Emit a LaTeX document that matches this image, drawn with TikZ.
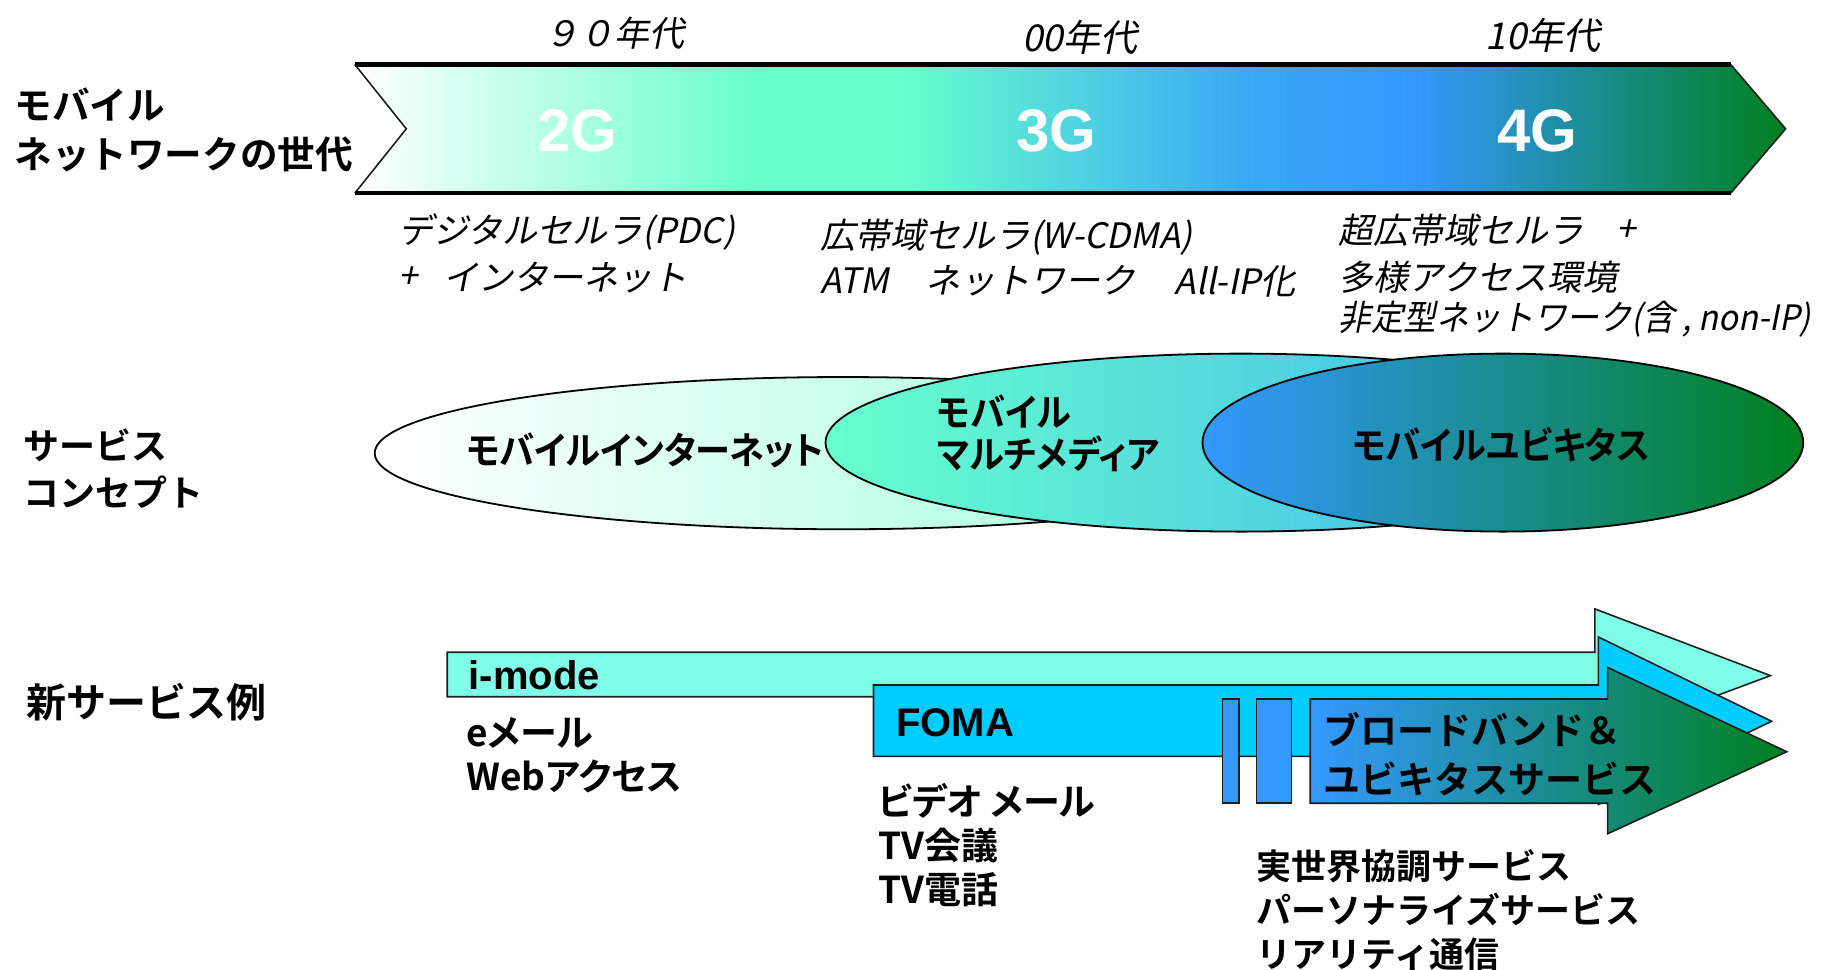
\documentclass[tikz,border=0pt]{standalone}
\usepackage{fontspec}
\setmainfont{Liberation Sans}
\newfontfamily\jpb{Noto Sans CJK JP Bold}
\newfontfamily\jpbp{Noto Sans CJK JP Bold}[RawFeature=+palt]
\newfontfamily\jpbpn{Noto Sans CJK JP Bold}[RawFeature=+palt, FakeStretch=0.935]
\newfontfamily\jpi{Noto Sans CJK JP}[FakeSlant=0.2]
\newfontfamily\jpin{Noto Sans CJK JP}[FakeSlant=0.2, FakeStretch=0.93]
\definecolor{mintc}{RGB}{102,255,204}
\definecolor{midblue}{RGB}{58,168,245}
\definecolor{blue3}{RGB}{51,153,255}
\definecolor{green3}{RGB}{0,128,32}
\definecolor{imodec}{RGB}{128,255,232}
\definecolor{fomac}{RGB}{0,204,255}
\definecolor{e1r}{RGB}{150,255,215}
\definecolor{e2r}{RGB}{64,176,240}
\definecolor{edge}{RGB}{30,30,30}
\pgfdeclarehorizontalshading{genshade}{100bp}{color(0bp)=(white); color(25bp)=(white); color(39.2bp)=(mintc); color(44.1bp)=(mintc); color(56.2bp)=(midblue); color(61.9bp)=(blue3); color(75bp)=(green3); color(100bp)=(green3)}
\begin{document}
\begin{tikzpicture}[x=0.5855pt,y=-0.5855pt,
  sidelbl/.style={font=\jpb\fontsize{18.8}{24.6}\selectfont, anchor=west, inner sep=0pt, align=left},
  dec/.style={font=\jpi\fontsize{17.5}{21}\selectfont, inner sep=0pt},
  gen/.style={font=\bfseries\fontsize{30}{34}\selectfont, text=white, inner sep=0pt},
  itl/.style={font=\jpi\fontsize{17.5}{22.5}\selectfont, anchor=west, inner sep=0pt, align=left},
  elbl/.style={font=\jpbpn\fontsize{18.8}{21}\selectfont, anchor=west, inner sep=0pt, align=left},
  barlbl/.style={font=\bfseries\fontsize{20}{24}\selectfont, anchor=west, inner sep=0pt},
  svc/.style={font=\jpbp\fontsize{18.5}{22.2}\selectfont, anchor=west, inner sep=0pt, align=left},
  outl/.style={draw=edge, line width=0.8pt},
  thickl/.style={draw=black, line width=2.2pt}]
\useasboundingbox (0,0) rectangle (1568,828);

% generation arrow
\shade[shading=genshade] (303,55) -- (1478,55) -- (1525,110) -- (1478,165) -- (303,165) -- (347,110) -- cycle;
\draw[outl] (1478,55) -- (1525,110) -- (1478,165);
\draw[outl] (303,55) -- (347,110) -- (303,165);
\draw[thickl] (303,55) -- (1478,55);
\draw[thickl] (303,165) -- (1478,165);

\node[sidelbl] (lblnet) at (12,111) {モバイル\\ネットワークの世代};
\node[dec] (d90) at (525,28) {９０年代};
\node[dec, font=\jpi\fontsize{18.5}{21}\selectfont] (d00) at (922,32) {00年代};
\node[dec, font=\jpi\fontsize{18.5}{21}\selectfont] (d10) at (1318,30) {10年代};
\node[gen] (g2) at (493,112) {2G};
\node[gen] (g3) at (902,112) {3G};
\node[gen] (g4) at (1313,112) {4G};

\node[itl] (pdc) at (340,198) {デジタルセルラ(PDC)};
\node[itl] (plus1) at (340,237) {+};
\node[itl] (inet) at (378,237) {インターネット};
\node[itl] (wcdma) at (700,203) {広帯域セルラ(W-CDMA)};
\node[itl] (atm) at (700,240) {ATM};
\node[itl] (atmnet) at (790,240) {ネットワーク};
\node[itl] (allip) at (1003,240) {All-IP化};
\node[itl] (uwb) at (1143,197) {超広帯域セルラ};
\node[itl] (plus2) at (1380,197) {+};
\node[itl] (multi) at (1143,237) {多様アクセス環境};
\node[itl, font=\jpin\fontsize{17.5}{22.5}\selectfont] (nonip) at (1143,273) {非定型ネットワーク(含 , non-IP)};

% service concept ellipses
\node[sidelbl, font=\jpb\fontsize{18}{23.4}\selectfont] (lblsvc) at (20,400) {サービス\\コンセプト};
\shade[left color=white, right color=e1r, draw=black, line width=0.9pt] (720,387) ellipse [x radius=234.2pt, y radius=38.06pt];
\shade[left color=mintc, right color=e2r, draw=black, line width=0.9pt] (1060,378) ellipse [x radius=207.85pt, y radius=44.5pt];
\shade[left color=blue3, right color=green3, draw=black, line width=0.9pt] (1283.5,378) ellipse [x radius=150.2pt, y radius=44.5pt];
\node[elbl] (einet) at (398,385) {モバイルインターネット};
\node[elbl] (emm) at (800,370) {モバイル\\マルチメディア};
\node[elbl] (eubi) at (1155,380) {モバイルユビキタス};

% new services
\node[sidelbl, font=\jpb\fontsize{20}{24}\selectfont] (lblnew) at (22,600) {新サービス例};
\filldraw[fill=imodec, outl] (382,557) -- (1362,557) -- (1362,520) -- (1512,577) -- (1362,633) -- (1362,595) -- (382,595) -- cycle;
\filldraw[fill=fomac, outl] (746,585) -- (1365,585) -- (1365,544) -- (1513,616) -- (1365,687) -- (1365,646) -- (746,646) -- cycle;
\filldraw[fill=blue3, outl] (1044,597) rectangle (1058,686);
\filldraw[fill=blue3, outl] (1073,597) rectangle (1103,686);
\shade[left color=blue3, right color=green3, outl] (1119,597) -- (1373,597) -- (1373,570) -- (1526,642) -- (1373,712) -- (1373,686) -- (1119,686) -- cycle;

\node[barlbl] (imode) at (400,577) {i-mode};
\node[barlbl] (foma) at (765,617) {FOMA};
\node[svc] (imsvc) at (398,645) {eメール\\Webアクセス};
\node[svc, font=\jpbp\fontsize{18.5}{22}\selectfont] (fomasvc) at (750,722) {ビデオ メール\\TV会議\\TV電話};
\node[svc, font=\jpb\fontsize{18.5}{24.6}\selectfont] (bb) at (1130,644) {ブロードバンド＆\\ユビキタスサービス};
\node[svc, font=\jpb\fontsize{17.5}{22}\selectfont] (future) at (1073,777) {実世界協調サービス\\パーソナライズサービス\\リアリティ通信};
\end{tikzpicture}
\end{document}
